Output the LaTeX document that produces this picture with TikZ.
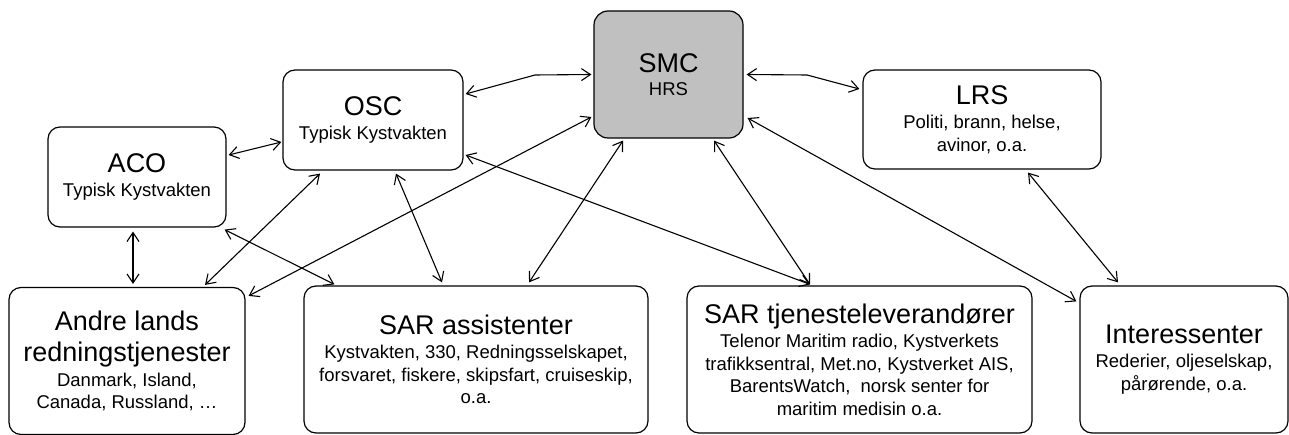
\documentclass[tikz,border=0pt]{standalone}
\usepackage{fontspec}
\setmainfont{Liberation Sans}
\usetikzlibrary{arrows.meta}
\newcommand\titlef{\fontsize{27}{31}\selectfont}
\newcommand\subf{\fontsize{18.5}{21.5}\selectfont}
\tikzset{
  box/.style={draw, line width=1.2pt, rounded corners=12pt, align=center, inner sep=0pt, font=\subf},
  smcbox/.style={box, fill=smcgray, rounded corners=14pt},
  link/.style={line width=1.1pt, {Straight Barb[length=9pt,width=12pt]}-{Straight Barb[length=9pt,width=12pt]}}
}
\definecolor{smcgray}{HTML}{C0C0C0}
\begin{document}
\begin{tikzpicture}[x=1pt,y=-1pt]
\useasboundingbox (0,0) rectangle (1289,435);
% boxes
\node[smcbox, minimum width=149pt, minimum height=127pt] (smc) at (668.5,74.5) {\titlef SMC\\[2pt]\subf HRS};
\node[box, minimum width=180pt, minimum height=100pt] (osc) at (373,120) {\titlef OSC\\[3pt]\subf Typisk Kystvakten};
\node[box, minimum width=238pt, minimum height=99pt] (lrs) at (982,119.5) {\titlef LRS\\[3pt]\subf Politi, brann, helse,\\[1pt]\subf avinor, o.a.};
\node[box, minimum width=178pt, minimum height=100pt] (aco) at (137,177) {\titlef ACO\\[3pt]\subf Typisk Kystvakten};
\node[box, minimum width=236pt, minimum height=147pt] (andre) at (127,361) {\titlef Andre lands\\[10pt]\titlef redningstjenester\\[3pt]\subf Danmark, Island,\\[1pt]\subf Canada, Russland, \dots};
\node[box, minimum width=344pt, minimum height=147pt] (sara) at (476,359.5) {\titlef SAR assistenter\\[3pt]\subf Kystvakten, 330, Redningsselskapet,\\[1pt]\subf forsvaret, fiskere, skipsfart, cruiseskip,\\[1pt]\subf o.a.};
\node[box, minimum width=345pt, minimum height=147pt] (sart) at (859.5,359.5) {\titlef SAR tjenesteleverandører\\[3pt]\subf Telenor Maritim radio, Kystverkets\\[1pt]\subf trafikksentral, Met.no, Kystverket AIS,\\[1pt]\subf BarentsWatch,\ \ norsk senter for\\[1pt]\subf maritim medisin o.a.};
\node[box, minimum width=208pt, minimum height=147pt] (inter) at (1184,359.5) {\titlef Interessenter\\[3pt]\subf Rederier, oljeselskap,\\[1pt]\subf pårørende, o.a.};
% bend points
\coordinate (b1) at (535,75);
\coordinate (b2) at (807,75);
% connectors
\draw[link] ([shift={(2pt,26pt)}]osc.east) -- (b1) -- ([xshift=-2pt]smc.west);
\draw[link] ([xshift=3pt]smc.east) -- (b2) -- ([shift={(-3pt,30.5pt)}]lrs.west);
\draw[link] ([shift={(2pt,22pt)}]aco.east) -- ([shift={(-1pt,-22pt)}]osc.west);
\draw[link] ([shift={(-4pt,-4pt)}]aco.south) -- ([shift={(6pt,3pt)}]andre.north);
\draw[link] ([shift={(-53pt,-3pt)}]osc.south) -- ([shift={(78pt,2pt)}]andre.north);
\draw[link] ([shift={(-2pt,-42.5pt)}]smc.west) -- ([shift={(3pt,-9pt)}]andre.north east);
\draw[link] ([shift={(23pt,-3pt)}]osc.south) -- ([shift={(-34pt,3pt)}]sara.north);
\draw[link] ([shift={(-2pt,-2pt)}]aco.south east) -- ([shift={(31pt,1pt)}]sara.north west);
\draw[link] ([shift={(-45.5pt,-2pt)}]smc.south) -- ([shift={(53pt,3pt)}]sara.north);
\draw[link] ([shift={(2pt,-35pt)}]osc.east) -- ([shift={(-49.5pt,1pt)}]sart.north);
\draw[link] ([shift={(45.5pt,-2pt)}]smc.south) -- ([shift={(-49.5pt,1pt)}]sart.north);
\draw[link] ([shift={(4pt,-43.5pt)}]smc.east) -- ([shift={(-3pt,-16pt)}]inter.north west);
\draw[link] ([shift={(46pt,-3pt)}]lrs.south) -- ([shift={(-66pt,3pt)}]inter.north);
\end{tikzpicture}
\end{document}
